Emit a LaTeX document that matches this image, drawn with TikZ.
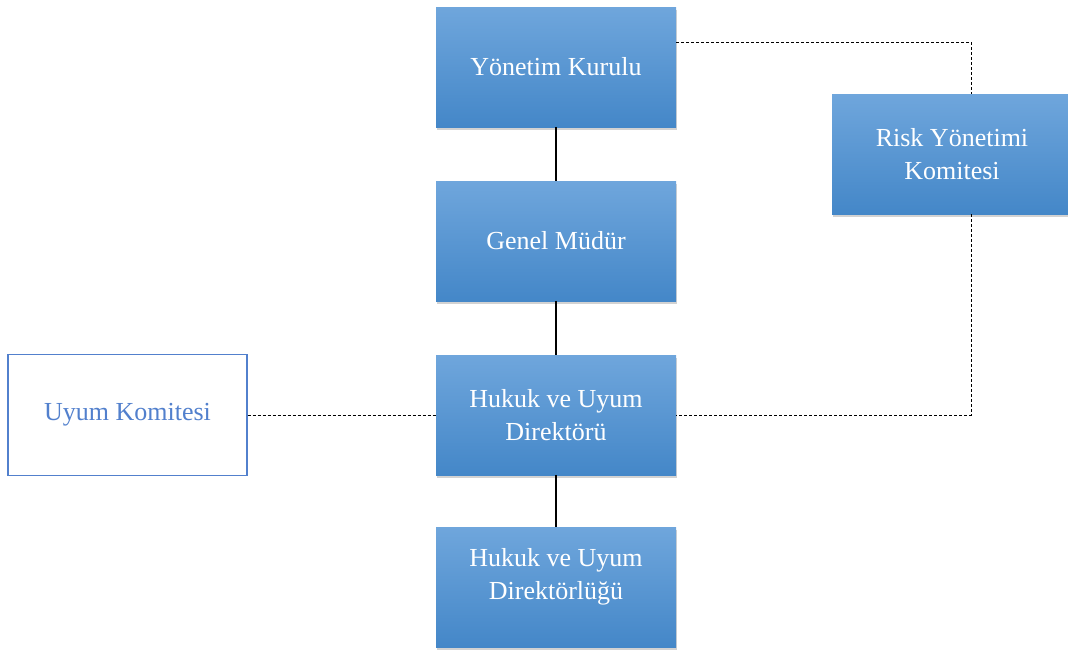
\documentclass[tikz,border=0pt]{standalone}
\usepackage{fontspec}
\setmainfont{Liberation Serif}
\usetikzlibrary{shadows,calc}
\definecolor{topblue}{RGB}{111,166,220}
\definecolor{botblue}{RGB}{68,135,200}
\definecolor{lineblue}{RGB}{82,128,205}
\begin{document}
\begin{tikzpicture}[x=1pt,y=-1pt,
  bluebox/.style={rectangle, minimum width=240pt, minimum height=120pt, inner sep=0pt,
    top color=topblue, bottom color=botblue, draw=none, text=white,
    align=center, font=\fontsize{26}{33}\selectfont,
    drop shadow={shadow xshift=1pt, shadow yshift=-3pt, opacity=0.25, fill=black!70}},
  whitebox/.style={rectangle, minimum width=239pt, minimum height=121pt, inner sep=0pt,
    draw=lineblue, line width=1.2pt, fill=white, text=lineblue,
    align=center, font=\fontsize{26}{33}\selectfont},
  solidlink/.style={draw=black, line width=2.4pt},
  dashlink/.style={draw=black, line width=0.9pt, dash pattern=on 3pt off 2pt}]
\useasboundingbox (0,0) rectangle (1068,653);

\node[bluebox] (yk) at (556,67) {Yönetim Kurulu};
\node[bluebox] (gm) at (556,241) {Genel Müdür};
\node[bluebox] (hud) at (556,415) {Hukuk ve Uyum\\Direktörü};
\node[bluebox] (hudl) at (556,587) {};
\node[text=white, align=center, font=\fontsize{26}{33}\selectfont] (hudltxt) at (556,577) {Hukuk ve Uyum\\Direktörlüğü};
\node[bluebox] (risk) at (952,154) {Risk Yönetimi\\Komitesi};
\node[whitebox] (uk) at (127.5,415) {Uyum Komitesi};

\coordinate (rtop) at ($(risk.north)+(19,0)$);
\coordinate (rbot) at ($(risk.south)+(19,0)$);
\coordinate (ykr) at ($(yk.east)+(0,-25)$);

\draw[solidlink] (yk.south) -- (gm.north);
\draw[solidlink] (gm.south) -- (hud.north);
\draw[solidlink] (hud.south) -- (hudl.north);

\draw[dashlink] (ykr) -| (rtop);
\draw[dashlink] (rbot) |- (hud.east);
\draw[dashlink] (uk.east) -- (hud.west);
\end{tikzpicture}
\end{document}
